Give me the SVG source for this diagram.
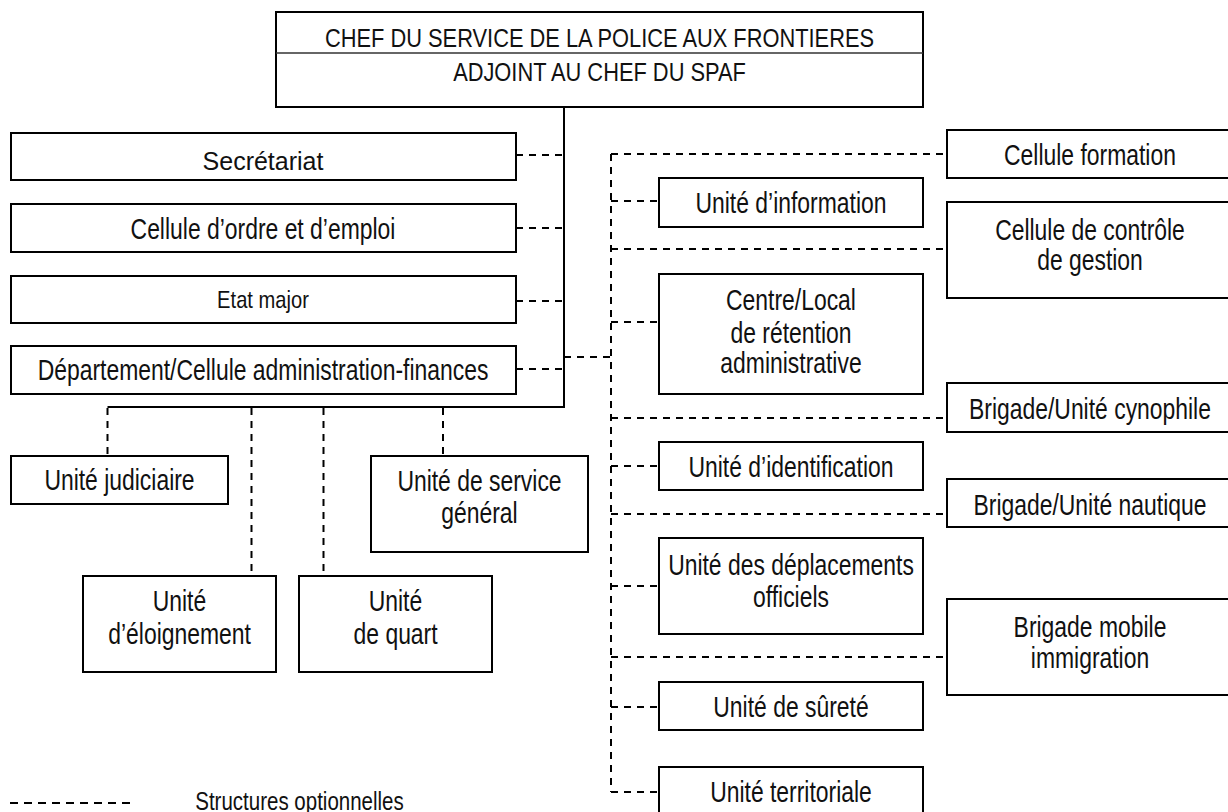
<svg xmlns="http://www.w3.org/2000/svg" width="1228" height="812" viewBox="0 0 1228 812">
<style>
  .box { fill: #ffffff; stroke: #000000; stroke-width: 2; }
  .solid { fill: none; stroke: #000000; stroke-width: 2; }
  .thin { fill: none; stroke: #333333; stroke-width: 1.5; }
  .dash { fill: none; stroke: #000000; stroke-width: 2; stroke-dasharray: 7 6; }
  .legdash { fill: none; stroke: #000000; stroke-width: 2; stroke-dasharray: 8 6; }
  text { font-family: "Liberation Sans", Arial, sans-serif; font-size: 29px; fill: #111111; text-anchor: middle;
         transform-box: fill-box; transform-origin: center; transform: scaleX(0.79); }
  .title { font-size: 26px; transform: scaleX(0.84); }
  .wide { font-size: 25px; transform: none; }
  .small { font-size: 24px; transform: scaleX(0.84); }
  .leg { font-size: 25px; transform: scaleX(0.82); }
</style>
<rect width="1228" height="812" fill="#ffffff"/>

<g id="connectors">
  <polyline class="solid" points="564,107 564,407 107.5,407"/>
  <line class="dash" x1="516" y1="155" x2="564" y2="155"/>
  <line class="dash" x1="516" y1="228" x2="564" y2="228"/>
  <line class="dash" x1="516" y1="301" x2="564" y2="301"/>
  <line class="dash" x1="516" y1="369" x2="564" y2="369"/>
  <line class="dash" x1="107.5" y1="408" x2="107.5" y2="456"/>
  <line class="dash" x1="251.5" y1="408" x2="251.5" y2="576"/>
  <line class="dash" x1="323.5" y1="408" x2="323.5" y2="576"/>
  <line class="dash" x1="443" y1="408" x2="443" y2="456"/>
  <line class="dash" x1="564" y1="357" x2="611" y2="357"/>
  <line class="dash" x1="611" y1="154" x2="611" y2="792"/>
  <line class="dash" x1="611" y1="154" x2="947" y2="154"/>
  <line class="dash" x1="611" y1="201" x2="659" y2="201"/>
  <line class="dash" x1="611" y1="249" x2="947" y2="249"/>
  <line class="dash" x1="611" y1="322" x2="659" y2="322"/>
  <line class="dash" x1="611" y1="418" x2="947" y2="418"/>
  <line class="dash" x1="611" y1="466" x2="659" y2="466"/>
  <line class="dash" x1="611" y1="514" x2="947" y2="514"/>
  <line class="dash" x1="611" y1="586" x2="659" y2="586"/>
  <line class="dash" x1="611" y1="657" x2="947" y2="657"/>
  <line class="dash" x1="611" y1="707" x2="659" y2="707"/>
  <line class="dash" x1="611" y1="792" x2="659" y2="792"/>
</g>

<g id="chef">
  <rect class="box" x="276" y="12" width="647" height="95"/>
  <line class="thin" x1="276" y1="53" x2="923" y2="53"/>
  <text class="title" x="599.5" y="47.5">CHEF DU SERVICE DE LA POLICE AUX FRONTIERES</text>
  <text class="title" x="599.5" y="81.5">ADJOINT AU CHEF DU SPAF</text>
</g>

<g id="secretariat">
  <rect class="box" x="11" y="133" width="505" height="47"/>
  <text class="wide" x="263" y="170">Secrétariat</text>
</g>
<g id="cellule-ordre">
  <rect class="box" x="11" y="204" width="505" height="48"/>
  <text x="263" y="239">Cellule d’ordre et d’emploi</text>
</g>
<g id="etat-major">
  <rect class="box" x="11" y="276" width="505" height="47"/>
  <text class="small" x="263" y="308">Etat major</text>
</g>
<g id="departement">
  <rect class="box" x="11" y="346" width="505" height="48"/>
  <text x="263" y="380.5">Département/Cellule administration-finances</text>
</g>

<g id="unite-judiciaire">
  <rect class="box" x="11" y="456" width="217" height="48"/>
  <text x="119.5" y="490.5">Unité judiciaire</text>
</g>
<g id="unite-service-general">
  <rect class="box" x="371" y="456" width="217" height="96"/>
  <text x="479.5" y="491">Unité de service</text>
  <text x="479.5" y="523">général</text>
</g>
<g id="unite-eloignement">
  <rect class="box" x="83" y="576" width="193" height="96"/>
  <text x="179.5" y="611">Unité</text>
  <text x="179.5" y="644">d’éloignement</text>
</g>
<g id="unite-quart">
  <rect class="box" x="299" y="576" width="193" height="96"/>
  <text x="395.5" y="611">Unité</text>
  <text x="395.5" y="644">de quart</text>
</g>

<g id="cellule-formation">
  <rect class="box" x="947" y="130" width="292" height="48"/>
  <text x="1090" y="165">Cellule formation</text>
</g>
<g id="unite-information">
  <rect class="box" x="659" y="178" width="264" height="49"/>
  <text x="791" y="213">Unité d’information</text>
</g>
<g id="cellule-controle">
  <rect class="box" x="947" y="202" width="292" height="96"/>
  <text x="1090" y="240">Cellule de contrôle</text>
  <text x="1090" y="270">de gestion</text>
</g>
<g id="centre-retention">
  <rect class="box" x="659" y="274" width="264" height="120"/>
  <text x="791" y="310">Centre/Local</text>
  <text x="791" y="343">de rétention</text>
  <text x="791" y="373">administrative</text>
</g>
<g id="brigade-cynophile">
  <rect class="box" x="947" y="383" width="292" height="49"/>
  <text x="1090" y="419">Brigade/Unité cynophile</text>
</g>
<g id="unite-identification">
  <rect class="box" x="659" y="442" width="264" height="48"/>
  <text x="791" y="477">Unité d’identification</text>
</g>
<g id="brigade-nautique">
  <rect class="box" x="947" y="479" width="292" height="48"/>
  <text x="1090" y="515">Brigade/Unité nautique</text>
</g>
<g id="unite-deplacements">
  <rect class="box" x="659" y="538" width="264" height="96"/>
  <text x="791" y="575">Unité des déplacements</text>
  <text x="791" y="607">officiels</text>
</g>
<g id="brigade-mobile">
  <rect class="box" x="947" y="599" width="292" height="96"/>
  <text x="1090" y="637">Brigade mobile</text>
  <text x="1090" y="668">immigration</text>
</g>
<g id="unite-surete">
  <rect class="box" x="659" y="682" width="264" height="48"/>
  <text x="791" y="717">Unité de sûreté</text>
</g>
<g id="unite-territoriale">
  <rect class="box" x="659" y="767" width="264" height="60"/>
  <text x="791" y="802">Unité territoriale</text>
</g>

<g id="legende">
  <line class="legdash" x1="10" y1="803" x2="130" y2="803"/>
  <text class="leg" x="299.5" y="810">Structures optionnelles</text>
</g>
</svg>
